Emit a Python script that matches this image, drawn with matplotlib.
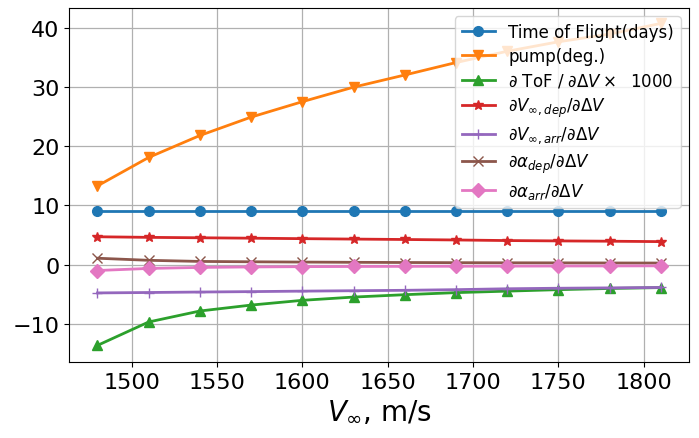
import matplotlib
matplotlib.use("Agg")
import matplotlib.pyplot as plt

v_inf = [1480, 1510, 1540, 1570, 1600, 1630, 1660, 1690, 1720, 1750, 1780, 1810]
tof_days = [9.05, 9.05, 9.05, 9.05, 9.05, 9.05, 9.05, 9.05, 9.05, 9.05, 9.05, 9.05]
pump_deg = [13.3, 18.1, 21.8, 24.9, 27.5, 29.95, 32.0, 34.1, 36.0, 37.6, 38.9, 40.7]
dtof_ddv = [-13.6, -9.65, -7.8, -6.8, -6.0, -5.45, -5.05, -4.7, -4.45, -4.2, -4.0, -3.85]
dvdep_ddv = [4.72, 4.62, 4.55, 4.48, 4.4, 4.33, 4.26, 4.18, 4.08, 4.02, 3.97, 3.9]
dvarr_ddv = [-4.75, -4.68, -4.6, -4.53, -4.45, -4.38, -4.31, -4.2, -4.05, -3.96, -3.9, -3.83]
dadep_ddv = [1.1, 0.75, 0.56, 0.5, 0.45, 0.41, 0.38, 0.35, 0.33, 0.32, 0.3, 0.29]
daarr_ddv = [-0.97, -0.62, -0.45, -0.37, -0.32, -0.29, -0.27, -0.25, -0.23, -0.21, -0.2, -0.18]

labels = [
    'Time of Flight(days)',
    'pump(deg.)',
    r'$\partial$ ToF / $\partial \Delta V \times$  1000',
    r'$\partial V_{\infty,dep}/\partial \Delta V$',
    r'$\partial V_{\infty,arr}/\partial \Delta V$',
    r'$\partial \alpha_{dep}/\partial \Delta V$',
    r'$\partial \alpha_{arr}/\partial \Delta V$',
]
series = [tof_days, pump_deg, dtof_ddv, dvdep_ddv, dvarr_ddv, dadep_ddv, daarr_ddv]
markers = ['o', 'v', '^', '*', '+', 'x', 'D']

fig = plt.figure(figsize=(6.99, 4.39), dpi=100)
ax = fig.add_axes([69.3 / 699, 1 - 363 / 439, (689 - 69.3) / 699, (363 - 9) / 439])
for s, lab, m in zip(series, labels, markers):
    ax.plot(v_inf, s, marker=m, lw=2, ms=7, label=lab)

ax.set_ylim(-16.4, 43.3)
ax.grid(True, color='#b0b0b0', lw=0.9)
ax.tick_params(labelsize=16)
ax.set_xlabel(r'$V_{\infty}$, m/s', fontsize=20)
ax.legend(loc='upper right', fontsize=12, labelspacing=0.37)
fig.savefig('out.png', dpi=100)
